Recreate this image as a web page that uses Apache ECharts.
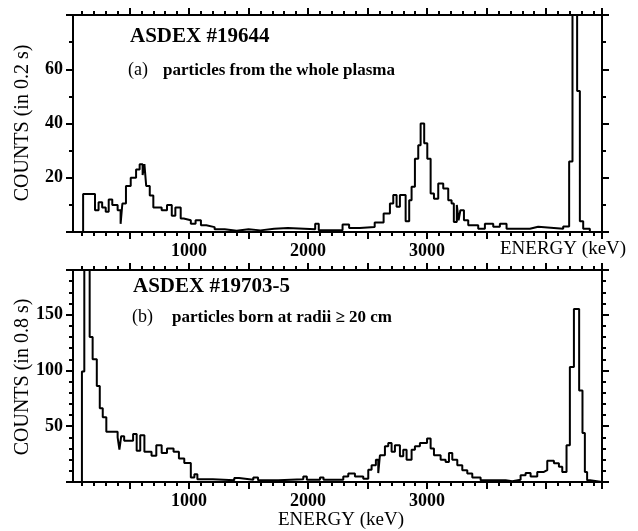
<!DOCTYPE html>
<html>
<head>
<meta charset="utf-8">
<script src="https://cdn.jsdelivr.net/npm/echarts@6/dist/echarts.min.js"></script>
<style>
  html, body { margin: 0; padding: 0; background: #fff; }
  #chart { width: 638px; height: 531px; }
</style>
</head>
<body>
<div id="chart"></div>
<script>
// panel (a) ASDEX #19644 - bin left edges (keV) and counts in 0.2 s
var edgesA = [25,110,210,240,270,300,325,355,400,425,440,470,510,555,585,610,625,640,670,700,770,815,855,885,930,955,1015,1055,1100,1145,1215,1300,1400,1500,1600,1715,1830,2060,2090,2290,2345,2435,2560,2635,2688,2716,2744,2772,2820,2850,2870,2898,2926,2946,2976,3002,3030,3058,3094,3136,3178,3206,3225,3250,3265,3280,3310,3346,3430,3486,3556,3612,3668,3864,3934,4144,4194,4222,4261,4284,4312,4368,4470];
var countsA = [0,14,8,11,9,7.5,12,10,8,3,10.5,17,20,23,25,21,25,17,13.5,9,8,10,6,9,5,4.3,3,4.3,2.5,1.8,1,0.5,1,0.6,1.2,1.5,1,3,0.6,2.8,1.5,1.8,3.5,6.8,10.5,13.6,9.3,13.6,4,11.7,16.7,27,32,40,32.7,27,14.2,12.3,17.9,16,11.7,10.5,3.7,10,4.3,8,4.3,2.5,1.2,3,1.9,3,1.2,1.9,1.2,2,26,95,52,4,1.2,0];

// panel (b) ASDEX #19703-5 - counts in 0.8 s
var edgesB = [25,100,120,165,190,225,250,275,305,400,415,430,455,530,560,590,625,685,725,770,815,870,915,960,1015,1045,1070,1200,1380,1420,1540,1580,1750,1960,1990,2100,2130,2296,2338,2394,2464,2506,2534,2570,2590,2604,2646,2674,2702,2730,2772,2800,2828,2870,2898,2940,3000,3030,3058,3114,3156,3184,3212,3254,3296,3338,3380,3450,3660,3716,3786,3828,3870,3926,3982,4010,4066,4108,4136,4172,4200,4234,4278,4306,4326,4345,4370,4470];
var countsB = [0,99,230,130,110,86,66,58,45,40,29,41,37,43,28,42,27,23.5,33,26,30,27,21,17,4,7,2.5,1.5,3.5,2,4,1.5,2.5,5,2,4,2,5,7.6,5,3,11,15,20,8,24,32,35,27,33,23,29,20,29,32,35,39,30,24,20,18,26,20,15,10.6,7.6,4,1.5,0.6,2,6,8,5,9,10.6,19,16.7,13.6,9,33,103,155,82,44,9,1.5,0];

var xLabels = [1000, 2000, 3000];
var yLabelsA = [20, 40, 60];
var yLabelsB = [50, 100, 150];

var E_MIN = 25, E_MAX = 4470;
var FONT = 'Liberation Serif';
var INK = '#000';

function steps(edges, counts) {
  return edges.map(function (e, i) {
    return [e, i < counts.length ? counts[i] : 0];
  });
}

var panels = [
  { left: 73, top: 15, width: 529, height: 217, ymax: 80, yMajor: 20, yLabels: yLabelsA },
  { left: 73, top: 270, width: 529, height: 212, ymax: 190, yMajor: 50, yLabels: yLabelsB }
];

var grids = [], xAxes = [], yAxes = [], series = [];
var tickLine = { color: INK, width: 2 };
var labelStyle = { color: INK, fontFamily: FONT, fontWeight: 'bold', fontSize: 18 };

panels.forEach(function (p, n) {
  // main data grid: box lines and labels
  var g = grids.length;
  grids.push({ left: p.left, top: p.top, width: p.width, height: p.height });
  var xi = xAxes.length, yi = yAxes.length;
  xAxes.push({
    gridIndex: g, type: 'value', min: E_MIN, max: E_MAX, position: 'bottom',
    axisLine: { onZero: false, lineStyle: { color: INK, width: 2 } },
    axisTick: { show: false }, splitLine: { show: false },
    axisLabel: Object.assign({ customValues: xLabels, margin: 10,
      formatter: function (v) { return String(v); } }, labelStyle)
  });
  xAxes.push({
    gridIndex: g, type: 'value', min: E_MIN, max: E_MAX, position: 'top',
    axisLine: { onZero: false, lineStyle: { color: INK, width: 2 } },
    axisTick: { show: false }, axisLabel: { show: false }, splitLine: { show: false }
  });
  // y axes with ticks in the data grid (min 0 so interval ticks are fine)
  [['left', p.yMajor, 7, true], ['left', 10, 4, false],
   ['right', p.yMajor, 7, false], ['right', 10, 4, false]].forEach(function (a, k) {
    yAxes.push({
      gridIndex: g, type: 'value', min: 0, max: p.ymax, interval: a[1], position: a[0],
      axisLine: { show: k === 0 || k === 2, onZero: false, lineStyle: { color: INK, width: 2 } },
      axisTick: { show: true, length: a[2], lineStyle: tickLine },
      splitLine: { show: false },
      axisLabel: a[3] ? Object.assign({ customValues: p.yLabels, margin: 10 }, labelStyle) : { show: false }
    });
  });
  series.push({
    type: 'line', xAxisIndex: xi, yAxisIndex: yi, step: 'end', clip: true,
    symbol: 'none', lineStyle: { color: INK, width: 2 },
    data: steps(n === 0 ? edgesA : edgesB, n === 0 ? countsA : countsB)
  });
  // tick-only grids for the energy axis, starting at a round energy
  var k = p.width / (E_MAX - E_MIN);
  [[100, 100, 4], [500, 500, 7]].forEach(function (t) {
    var tg = grids.length;
    grids.push({ left: p.left + (t[0] - E_MIN) * k, top: p.top,
      width: (E_MAX - t[0]) * k, height: p.height });
    ['bottom', 'top'].forEach(function (pos) {
      xAxes.push({
        gridIndex: tg, type: 'value', min: t[0], max: E_MAX, interval: t[1], position: pos,
        axisLine: { show: false, onZero: false },
        axisTick: { show: true, length: t[2], lineStyle: tickLine },
        axisLabel: { show: false }, splitLine: { show: false }
      });
    });
    yAxes.push({ gridIndex: tg, type: 'value', min: 0, max: 1, show: false });
  });
});

function txt(x, y, s, size, weight, align, rot) {
  return {
    type: 'text', x: x, y: y, rotation: rot || 0,
    style: {
      text: s, fill: INK, textAlign: align || 'left', textVerticalAlign: 'middle',
      font: (weight || 'normal') + ' ' + size + 'px "' + FONT + '"'
    }
  };
}

var chart = echarts.init(document.getElementById('chart'));
chart.setOption({
  animation: false,
  backgroundColor: '#fff',
  grid: grids,
  xAxis: xAxes,
  yAxis: yAxes,
  series: series,
  graphic: [
    txt(130, 37, 'ASDEX #19644', 21, 'bold'),
    txt(128, 70, '(a)', 18),
    txt(163, 71, 'particles from the whole plasma', 17, 'bold'),
    txt(133, 287, 'ASDEX #19703-5', 21, 'bold'),
    txt(132, 317, '(b)', 18),
    txt(172, 318, 'particles born at radii \u2265 20 cm', 17, 'bold'),
    txt(23, 123, 'COUNTS (in 0.2 s)', 20, 'normal', 'center', Math.PI / 2),
    txt(23, 377, 'COUNTS (in 0.8 s)', 20, 'normal', 'center', Math.PI / 2),
    txt(500, 249, 'ENERGY (keV)', 19),
    txt(341, 520, 'ENERGY (keV)', 19, 'normal', 'center')
  ]
});
</script>
</body>
</html>
